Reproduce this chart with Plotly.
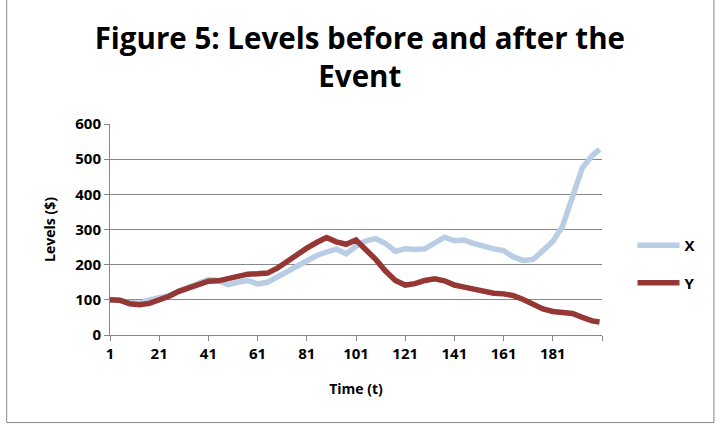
import plotly.graph_objects as go

t_vals = [1, 5, 9, 13, 17, 21, 25, 29, 33, 37, 41, 45, 49, 53, 57, 61, 65, 69, 73, 77,
          81, 85, 89, 93, 97, 101, 105, 109, 113, 117, 121, 125, 129, 133, 137, 141,
          145, 149, 153, 157, 161, 165, 169, 173, 177, 181, 185, 189, 193, 197, 200]

x_series = [100, 98, 92, 90, 100, 107, 112, 125, 135, 148, 158, 155, 143, 150, 155, 145,
            150, 165, 180, 195, 212, 226, 236, 244, 231, 252, 268, 274, 260, 238, 245,
            243, 245, 262, 278, 268, 270, 260, 251, 245, 240, 222, 212, 215, 240, 266,
            310, 395, 475, 510, 528]

y_series = [100, 99, 89, 86, 90, 99, 110, 124, 135, 146, 153, 154, 160, 168, 173, 174,
            176, 190, 210, 227, 247, 263, 277, 265, 258, 270, 245, 215, 182, 155, 142,
            146, 155, 160, 154, 142, 136, 130, 124, 119, 117, 112, 101, 87, 74, 67, 63,
            61, 50, 40, 37]

x_tick_vals = [1, 21, 41, 61, 81, 101, 121, 141, 161, 181, 201]
x_tick_text = ["1", "21", "41", "61", "81", "101", "121", "141", "161", "181", ""]
y_tick_vals = [0, 100, 200, 300, 400, 500, 600]

FONT = "Open Sans"

fig = go.Figure()
fig.add_trace(go.Scatter(x=t_vals, y=x_series, mode="lines", name="X",
                         line=dict(color="#b9cde5", width=5.5), legendgroup="a"))
fig.add_trace(go.Scatter(x=t_vals, y=y_series, mode="lines", name="Y",
                         line=dict(color="#953735", width=5.5), legendgroup="b"))

fig.update_layout(
    width=724, height=428,
    margin=dict(l=110, r=122, t=124, b=93),
    paper_bgcolor="white", plot_bgcolor="white",
    font=dict(family=FONT, color="black", size=14, weight="bold"),
    title=dict(text="Figure 5: Levels before and after the<br>Event",
               x=0.497, xref="container", xanchor="center",
               yref="container", y=1 - 49 / 428, yanchor="middle",
               font=dict(family=FONT, size=29.5, weight="bold", color="black")),
    showlegend=True,
    legend=dict(x=1.062, y=0.337, xanchor="left", yanchor="middle",
                font=dict(family=FONT, size=15, weight="bold"),
                itemwidth=42, tracegroupgap=15, bgcolor="rgba(0,0,0,0)"),
    xaxis=dict(range=[1, 201], tickmode="array", tickvals=x_tick_vals, ticktext=x_tick_text,
               showgrid=False, showline=True, linecolor="#888888", linewidth=1,
               ticks="outside", ticklen=5, tickcolor="#888888", zeroline=False,
               title=dict(text="Time (t)", font=dict(family=FONT, size=14, weight="bold"), standoff=22),
               tickfont=dict(family=FONT, size=15, weight="bold")),
    yaxis=dict(range=[0, 600], tickmode="array", tickvals=y_tick_vals,
               showgrid=True, gridcolor="#888888", gridwidth=1,
               showline=True, linecolor="#888888", linewidth=1,
               ticks="outside", ticklen=5, tickcolor="#888888", zeroline=False,
               title=dict(text="Levels ($)", font=dict(family=FONT, size=14, weight="bold"), standoff=16),
               tickfont=dict(family=FONT, size=15, weight="bold")),
    shapes=[dict(type="rect", xref="paper", yref="paper",
                 x0=-0.21, x1=1.2275, y0=-0.415, y1=1.62,
                 line=dict(color="#888888", width=1), layer="below")],
)

fig.write_html("out.html")
